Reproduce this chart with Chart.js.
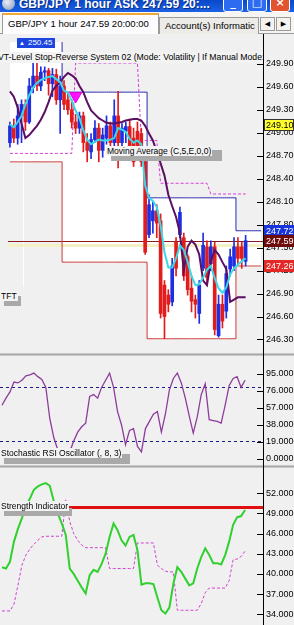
<!DOCTYPE html>
<html>
<head>
<meta charset="utf-8">
<script src="https://cdn.jsdelivr.net/npm/chart.js@4.4.1/dist/chart.umd.min.js"></script>
<style>
  body { margin: 0; width: 294px; height: 625px; overflow: hidden; background: #f0f0f0; position: relative; font-family: "Liberation Sans", Arial, sans-serif; }
  canvas { position: absolute; left: 0; }
  .abs { position: absolute; }
  #title { left: 0; top: 0; width: 294px; height: 12px; background: linear-gradient(#0a48c8, #1c62e4); overflow: hidden; }
  #title .ttl { position: absolute; left: 19px; top: -3px; color: #fff; font: bold 12px "Liberation Sans", Arial, sans-serif; white-space: nowrap; text-shadow: 1px 1px 0 #0a2a80; }
  #title .ico { position: absolute; left: 2px; top: -3px; width: 13px; height: 13px; border-radius: 50%; background: radial-gradient(circle at 40% 40%, #e8eef8, #7f93b8); }
  #title .btn { position: absolute; top: -5px; width: 18px; height: 15px; border: 1px solid #fff; border-radius: 3px; background: #2d6cf0; color: #fff; font: bold 11px "DejaVu Sans", sans-serif; text-align: center; line-height: 13px; }
  #tabs { left: 0; top: 12px; width: 294px; height: 22px; background: #f6f5f1; border-bottom: 1px solid #9a9a9a; box-sizing: border-box; }
  .tab { position: absolute; box-sizing: border-box; border: 1px solid #9a9a9a; border-bottom: none; font-size: 9.5px; white-space: nowrap; overflow: hidden; color: #000; }
  .tab.act { left: 2px; top: 1px; width: 157px; height: 21px; background: #fcfcfe; border-top: 2px solid #f2a838; padding: 3px 0 0 5px; }
  .tab.off { left: 159px; top: 5px; width: 100px; height: 17px; background: #ecebe7; padding: 2px 0 0 5px; }
  .arr { position: absolute; top: 5px; width: 15px; height: 14px; box-sizing: border-box; border: 1px solid #9a9a9a; background: #f4f3ef; font: 7px "DejaVu Sans", sans-serif; text-align: center; line-height: 12px; color: #000; }
  .lbl { position: absolute; font-size: 8.5px; line-height: 10px; white-space: nowrap; color: #000; background: #f3f3f3; padding: 0 1px; }
  .shd { position: absolute; background: #a9a9a9; }
  .sep { position: absolute; left: 0; width: 294px; height: 3px; background: linear-gradient(#d8d8d8, #a8a8a8 50%, #d8d8d8); }
</style>
</head>
<body>
<div id="title" class="abs">
  <span class="ico"></span>
  <span class="ttl">GBP/JPY 1 hour ASK 247.59 20:...</span>
  <div class="btn" style="left:223px">_</div>
  <div class="btn" style="left:247px">□</div>
  <div class="btn" style="left:270px;background:#e0552e">×</div>
</div>
<div id="tabs" class="abs">
  <div class="tab act">GBP/JPY 1 hour 247.59 20:00:00</div>
  <div class="tab off">Account(s) Informatic</div>
  <div class="arr" style="left:260px">◀</div>
  <div class="arr" style="left:276px">▶</div>
</div>

<canvas id="price" width="294" height="319" style="top:34px"></canvas>
<div class="sep" style="top:353px"></div>
<canvas id="stoch" width="294" height="109" style="top:356px"></canvas>
<div class="sep" style="top:465px"></div>
<canvas id="strength" width="294" height="157" style="top:468px"></canvas>
<div class="abs" style="left:263px;top:34px;width:1px;height:591px;background:#000"></div>

<!-- text objects on the chart -->
<div class="abs" style="left:0;top:52px;width:263px;height:11px;overflow:hidden;background:#f3f3f3">
  <span style="position:absolute;left:-2px;top:0;font-size:8.7px;line-height:11px;white-space:nowrap">VT-Level Stop-Reverse System 02 (Mode: Volatility | If Manual Mode:</span>
</div>
<div class="abs" style="left:17px;top:38px;width:38px;height:10px;background:#1c44e0;color:#fff;font-size:8px;line-height:10px;white-space:nowrap"><span style="font-size:6px;margin:0 3px 0 2px">▲</span>250.45</div>
<div class="shd" style="left:111px;top:150px;width:111px;height:11px"></div>
<div class="lbl" style="left:106px;top:146px">Moving Average (C,5,E,0,0)</div>
<div class="shd" style="left:4px;top:296px;width:17px;height:10px"></div>
<div class="lbl" style="left:0;top:291px">TFT</div>
<div class="shd" style="left:4px;top:454px;width:126px;height:10px"></div>
<div class="lbl" style="left:0;top:448px">Stochastic RSI Oscillator (, 8, 3)</div>
<div class="shd" style="left:4px;top:508px;width:68px;height:8px"></div>
<div class="lbl" style="left:0;top:501px">Strength Indicator</div>

<script>
// ---- data ----
const bars = 62;      // candles drawn
const slots = 66;     // candles + empty chart shift on the right
const times = Array.from({ length: slots }, (_, i) => {
  const h = ((20 - (bars - 1) + i) % 24 + 24) % 24;
  return String(h).padStart(2, '0') + ':00';
});

const opens = [248.87,249.09,248.93,249.22,249.37,249.14,249.59,249.74,249.61,249.79,
  249.81,249.64,249.76,249.43,249.61,249.43,249.30,249.14,249.06,249.22,
  248.87,248.75,248.91,249.06,248.77,248.93,249.09,248.87,249.22,248.87,
  249.02,249.08,248.93,249.02,248.99,248.62,247.67,247.85,247.98,247.85,
  247.01,246.88,246.79,247.57,247.67,247.63,247.38,246.97,246.82,246.64,
  247.23,247.51,247.29,247.51,246.35,246.76,246.67,247.22,247.26,247.51,
  247.51,247.32];
const highs = [249.14,249.18,249.37,249.43,249.43,249.71,250.01,250.00,249.86,249.86,
  249.84,249.84,249.83,249.74,249.68,249.52,249.43,249.24,249.27,249.27,
  248.99,248.99,249.16,249.12,249.06,249.22,249.14,249.43,249.54,249.12,
  249.14,249.18,249.06,249.14,249.06,248.68,248.19,248.09,248.06,247.94,
  247.07,246.95,247.36,247.63,248.03,247.69,247.41,247.13,246.88,247.07,
  247.69,247.59,247.59,247.57,246.88,246.88,247.26,247.48,247.63,247.63,
  247.57,247.66];
const lows = [248.81,248.87,248.85,248.87,249.03,249.12,249.52,249.55,249.55,249.68,
  249.49,249.47,249.37,248.99,249.30,249.24,249.06,248.99,248.99,248.75,
  248.62,248.66,248.87,248.62,248.68,248.85,248.81,248.81,248.54,248.77,
  248.87,248.68,248.56,248.75,248.56,247.41,247.63,247.69,247.63,246.58,
  246.31,246.66,246.74,247.13,247.63,247.07,246.88,246.66,246.58,246.51,
  247.20,247.03,247.20,246.36,246.33,246.45,246.58,247.13,247.20,247.28,
  247.23,247.26];
const closes = [249.09,248.93,249.22,249.37,249.14,249.61,249.74,249.61,249.79,249.81,
  249.64,249.76,249.43,249.61,249.37,249.30,249.14,249.06,249.22,248.87,
  248.77,248.91,249.06,248.77,248.97,249.09,248.87,249.22,248.87,249.06,
  249.08,248.75,248.62,248.81,248.62,247.44,248.06,247.98,247.82,246.64,
  246.60,246.76,247.26,247.23,247.96,247.13,246.95,246.80,246.76,247.01,
  247.53,247.11,247.51,246.43,246.76,246.54,247.16,247.38,247.51,247.36,
  247.36,247.59];

// Moving Average (C,5,E,0,0)
const emaLine = [249.11,249.07,249.14,249.22,249.37,249.49,249.59,249.65,249.69,249.71,
  249.73,249.74,249.70,249.66,249.55,249.52,249.42,249.29,249.19,249.03,
  248.91,248.85,248.88,248.91,248.90,248.90,248.91,248.93,249.06,249.04,
  249.01,248.92,248.87,248.90,248.85,248.31,248.15,248.11,248.03,247.79,
  247.44,247.24,247.24,247.36,247.53,247.47,247.31,247.13,247.01,247.02,
  247.11,247.21,247.26,247.10,246.97,246.91,246.98,247.15,247.23,247.28,
  247.32,247.36];
// VT trailing line (dark purple)
const trailLine = [249.54,249.47,249.33,249.12,248.93,248.97,249.03,249.09,249.17,249.27,
  249.40,249.55,249.61,249.66,249.73,249.78,249.75,249.71,249.61,249.53,
  249.40,249.29,249.24,249.19,249.16,249.13,249.12,249.12,249.13,249.14,
  249.16,249.17,249.18,249.18,249.16,249.09,248.99,248.90,248.75,248.60,
  248.44,248.19,248.04,247.90,247.69,247.20,247.51,247.59,247.54,247.41,
  247.07,247.01,247.32,247.47,247.41,247.31,247.22,246.79,246.82,246.85,
  246.85,246.85];
// VT stop level (magenta dashed)
const stopLine = [248.73,248.73,248.73,248.73,248.73,248.73,248.73,248.73,248.73,248.73,
  248.73,248.73,248.73,248.73,248.73,248.73,248.73,249.91,249.91,249.91,
  249.91,249.91,249.91,249.91,249.91,249.91,249.91,249.91,249.91,249.91,
  249.91,249.91,249.91,249.91,248.90,248.90,248.90,248.90,248.90,248.34,
  248.34,248.34,248.34,248.34,248.34,248.34,248.34,248.34,248.34,248.34,
  248.34,248.34,248.20,248.20,248.20,248.20,248.20,248.20,248.20,248.20,
  248.20,248.20];
// channel levels (upper blue / lower red), run into the empty shift
const upperLevel = [250.45,250.45,250.45,250.45,250.45,250.45,250.45,250.45,250.45,250.45,
  250.45,250.45,250.45,250.45,249.53,249.53,249.53,249.53,249.53,249.53,
  249.53,249.53,249.53,249.53,249.53,249.53,249.53,249.53,249.53,249.53,
  249.53,249.53,249.53,249.53,249.53,249.53,248.15,248.15,248.15,248.15,
  248.15,248.15,248.15,248.15,248.15,248.15,248.15,248.15,248.15,248.15,
  248.15,248.15,248.15,248.15,248.15,248.15,248.15,248.15,248.15,247.72,
  247.72,247.72,247.72,247.72,247.72,247.72];
const lowerLevel = [248.62,248.62,248.62,248.62,248.62,248.62,248.62,248.62,248.62,248.62,
  248.62,248.62,248.62,248.62,247.31,247.31,247.31,247.31,247.31,247.31,
  247.31,247.31,247.31,247.31,247.31,247.31,247.31,247.31,247.31,247.31,
  247.31,247.31,247.31,247.31,247.31,247.31,246.31,246.31,246.31,246.31,
  246.31,246.31,246.31,246.31,246.31,246.31,246.31,246.31,246.31,246.31,
  246.31,246.31,246.31,246.31,246.31,246.31,246.31,246.31,246.31,247.26,
  247.26,247.26,247.26,247.26,247.26,247.26];
const arrowBar = 17, arrowPrice = 249.48;
const bidPrice = 247.59, askPrice = 247.53;
const vlineBar = 3.5, vlineEnd = 246.99;
const tagValues = [249.10, 247.72, 247.59, 247.26];

const priceTicks = [249.90,249.60,249.30,249.00,248.70,248.40,248.10,247.80,247.50,247.20,246.90,246.60,246.30];
const priceTickLabels = ['249.90','249.60','249.30','249.00','248.70','248.40','248.10','247.80','247.50','247.20','246.90','246.60','246.30'];

// Stochastic RSI Oscillator (, 8, 3)
const stochK = [60,68,75,86,85,88,93,94,96,92,
  89,80,45,24,10,3,1,8,20,30,
  36,40,70,72,68,80,88,96,80,53,
  38,16,32,34,14,8,34,42,50,53,
  30,50,77,90,96,85,68,48,29,47,
  72,84,44,43,42,40,60,82,90,92,
  80,88];
const stochLevels = [80, 20];
const stochTicks = [95, 76, 57, 38, 19, 0];
const stochTickLabels = ['95.000','76.000','57.000','38.000','19.0000','0.0000'];

// Strength Indicator
const strength = [41.0,40.8,41.8,44.8,46.7,48.3,50.0,51.2,52.5,53.0,
  53.3,53.5,53.1,50.8,49.0,47.5,45.8,40.8,40.0,39.0,
  38.0,37.1,39.8,40.6,40.3,41.5,43.0,45.5,47.5,46.5,
  45.0,44.2,45.5,45.8,43.5,38.4,38.6,38.6,38.5,36.5,
  34.6,34.1,35.0,38.5,41.0,40.3,39.3,38.3,38.6,40.8,
  42.5,43.8,42.8,41.6,41.6,41.4,42.8,44.8,47.3,48.4,
  48.6,49.5];
const strengthSignal = [34.5,34.5,34.5,35.5,38.3,41.3,42.8,43.7,44.4,45.0,
  45.5,45.6,45.6,45.6,45.6,45.6,51.0,47.8,46.0,45.0,
  44.3,43.9,43.9,43.9,43.9,43.9,43.9,40.8,40.8,40.8,
  40.8,40.8,40.8,40.8,44.6,44.6,44.6,44.6,44.6,41.3,
  40.8,40.4,40.3,40.3,34.6,34.6,34.6,34.6,34.6,34.6,
  35.6,37.2,37.9,37.9,37.9,37.9,37.9,39.0,42.1,42.2,
  42.6,43.4];
const strengthLevel = 50;
const strengthTicks = [52, 49, 46, 43, 40, 37, 34];
const strengthTickLabels = ['52.000','49.000','46.000','43.000','40.000','37.000','34.000'];

// ---- drawing ----
const BULL = '#1e2ee0', BEAR = '#e21c1c';
const FONT = 'Liberation Sans';

function hline(ctx, area, py, color, width, dash) {
  ctx.save();
  ctx.strokeStyle = color; ctx.lineWidth = width; ctx.setLineDash(dash || []);
  const y = width % 2 ? Math.round(py) + 0.5 : Math.round(py);
  ctx.beginPath(); ctx.moveTo(area.left, y); ctx.lineTo(area.right, y); ctx.stroke();
  ctx.restore();
}

const tickDashes = {
  id: 'tickDashes',
  afterDraw(chart) {
    const { ctx, chartArea: a, scales: { y } } = chart;
    ctx.save(); ctx.strokeStyle = '#000'; ctx.lineWidth = 1;
    y.ticks.forEach(t => {
      const py = Math.round(y.getPixelForValue(t.value)) + 0.5;
      ctx.beginPath(); ctx.moveTo(a.right - 6, py); ctx.lineTo(a.right, py); ctx.stroke();
    });
    ctx.restore();
  }
};

function paneOptions(min, max, ticks, labels) {
  return {
    responsive: false,
    animation: false,
    layout: { padding: 0 },
    elements: { point: { radius: 0 }, line: { tension: 0 } },
    plugins: { legend: { display: false }, tooltip: { enabled: false }, filler: { drawTime: 'beforeDraw' } },
    scales: {
      x: { type: 'category', labels: times, display: false, offset: true },
      y: {
        position: 'right', min: min, max: max,
        grid: { display: false, drawTicks: false },
        border: { display: true, color: '#000', width: 1 },
        afterBuildTicks: s => { s.ticks = ticks.map(v => ({ value: v })); },
        afterFit: s => { s.width = 31; s.paddingTop = 0; s.paddingBottom = 0; },
        ticks: {
          autoSkip: false, padding: 3, color: '#000',
          font: { family: FONT, size: 9 },
          callback: (v, i) => labels[i]
        }
      }
    }
  };
}

const priceGuides = {
  id: 'priceGuides',
  beforeDatasetsDraw(chart) {
    const { ctx, chartArea: a, scales: { x, y } } = chart;
    ctx.save();
    const vx = Math.round(x.getPixelForValue(vlineBar)) + 0.5;
    ctx.strokeStyle = '#ffffff'; ctx.lineWidth = 1;
    ctx.beginPath(); ctx.moveTo(vx, a.top); ctx.lineTo(vx, y.getPixelForValue(vlineEnd)); ctx.stroke();
    ctx.restore();
    hline(ctx, a, y.getPixelForValue(askPrice), '#f4f1c4', 3);
    hline(ctx, a, y.getPixelForValue(bidPrice), '#8a1c1c', 1);
  },
  afterDraw(chart) {
    const { ctx, chartArea: a, scales: { y } } = chart;
    const styles = [['#ffff30', '#000'], ['#1733dc', '#fff'], ['#6e0c0c', '#fff'], ['#e42828', '#fff']];
    ctx.save();
    ctx.font = '9px ' + FONT; ctx.textBaseline = 'middle';
    tagValues.forEach((v, i) => {
      const py = Math.round(y.getPixelForValue(v));
      ctx.fillStyle = styles[i][0];
      ctx.fillRect(a.right + 1, py - 6, 30, 12);
      if (i === 0) { ctx.strokeStyle = '#333'; ctx.strokeRect(a.right + 1.5, py - 5.5, 29, 11); }
      ctx.fillStyle = styles[i][1];
      ctx.fillText(v.toFixed(2), a.right + 3, py + 0.5);
    });
    ctx.restore();
  }
};

const candleColor = c => closes[c.dataIndex] >= opens[c.dataIndex] ? BULL : BEAR;
const pOpts = paneOptions(246.228, 250.185, priceTicks, priceTickLabels);

new Chart(document.getElementById('price'), {
  type: 'bar',
  data: {
    labels: times,
    datasets: [
      { type: 'line', data: upperLevel, borderColor: '#2a2ab0', borderWidth: 1, stepped: 'middle',
        fill: '+1', backgroundColor: '#ffffff', order: 9 },
      { type: 'line', data: lowerLevel, borderColor: '#cc3a3a', borderWidth: 1, stepped: 'middle', order: 8 },
      { type: 'line', data: stopLine, borderColor: '#d63cd6', borderWidth: 1, borderDash: [3, 2], order: 7 },
      { type: 'bar', data: highs.map((h, i) => [lows[i], h]), backgroundColor: candleColor,
        barThickness: 1, grouped: false, order: 6 },
      { type: 'bar', data: opens.map((o, i) => [o, closes[i]]), backgroundColor: candleColor,
        barThickness: 3, minBarLength: 1, grouped: false, order: 5 },
      { type: 'line', data: trailLine, borderColor: '#5a0f62', borderWidth: 2, order: 3 },
      { type: 'line', data: emaLine, borderColor: '#3ad8e6', borderWidth: 2, order: 2 },
      { type: 'line', data: times.map((_, i) => i === arrowBar ? arrowPrice : null), showLine: false,
        pointStyle: 'triangle', rotation: 180, pointRadius: 7, pointBackgroundColor: '#ff10ff',
        pointBorderColor: '#e000e0', order: 1 }
    ]
  },
  options: pOpts,
  plugins: [priceGuides, tickDashes]
});

const stochGuides = {
  id: 'stochGuides',
  beforeDatasetsDraw(chart) {
    const { ctx, chartArea: a, scales: { y } } = chart;
    stochLevels.forEach(v => hline(ctx, a, y.getPixelForValue(v), '#1a1a8c', 1, [3, 3]));
  }
};

new Chart(document.getElementById('stoch'), {
  type: 'line',
  data: {
    labels: times,
    datasets: [{ data: stochK, borderColor: '#8e3c9c', borderWidth: 1.3 }]
  },
  options: paneOptions(-6.7, 115.08, stochTicks, stochTickLabels),
  plugins: [stochGuides, tickDashes]
});

const strengthGuides = {
  id: 'strengthGuides',
  beforeDatasetsDraw(chart) {
    const { ctx, chartArea: a, scales: { y } } = chart;
    hline(ctx, a, y.getPixelForValue(strengthLevel), '#e01010', 3);
  }
};

new Chart(document.getElementById('strength'), {
  type: 'line',
  data: {
    labels: times,
    datasets: [
      { data: strength, borderColor: '#2fd02f', borderWidth: 2 },
      { data: strengthSignal, borderColor: '#d040d0', borderWidth: 1, borderDash: [3, 2] }
    ]
  },
  options: paneOptions(32.41, 55.74, strengthTicks, strengthTickLabels),
  plugins: [strengthGuides, tickDashes]
});
</script>
</body>
</html>
